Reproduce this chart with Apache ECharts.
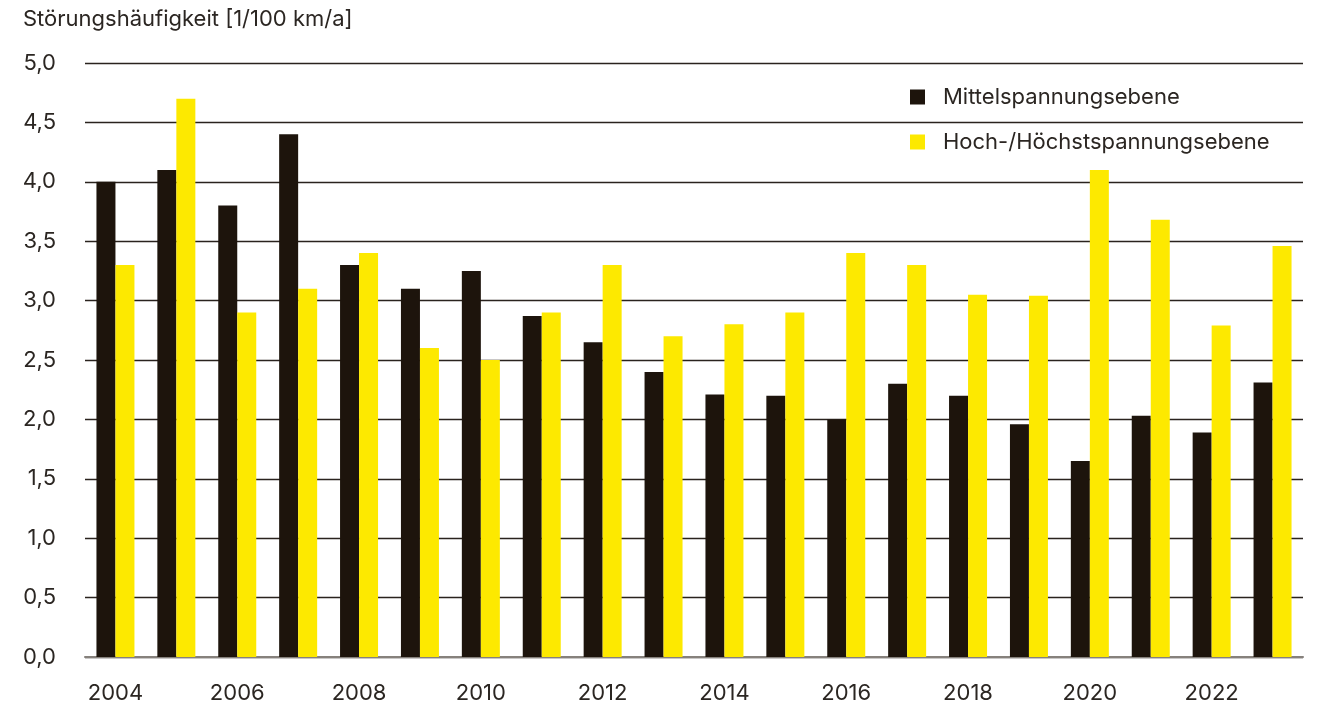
<!DOCTYPE html>
<html>
<head>
<meta charset="utf-8">
<script src="https://cdn.jsdelivr.net/npm/echarts@6/dist/echarts.min.js"></script>
<style>
  html, body { margin: 0; padding: 0; background: #ffffff; }
  #chart { width: 1318px; height: 709px; }
</style>
</head>
<body>
<div id="chart"></div>
<script>
// Jahre (Kategorien)
const years = ['2004','2005','2006','2007','2008','2009','2010','2011','2012','2013',
               '2014','2015','2016','2017','2018','2019','2020','2021','2022','2023'];

// Störungshäufigkeit je 100 km und Jahr
const mittelspannung = [4.00, 4.10, 3.80, 4.40, 3.30, 3.10, 3.25, 2.87, 2.65, 2.40,
                        2.21, 2.20, 2.00, 2.30, 2.20, 1.96, 1.65, 2.03, 1.89, 2.31];
const hochspannung   = [3.30, 4.70, 2.90, 3.10, 3.40, 2.60, 2.50, 2.90, 3.30, 2.70,
                        2.80, 2.90, 3.40, 3.30, 3.05, 3.04, 4.10, 3.68, 2.79, 3.46];

const seriesNames = ['Mittelspannungsebene', 'Hoch-/Höchstspannungsebene'];
const yAxisTitle = 'Störungshäufigkeit [1/100 km/a]';

const FONT = 'Inter, "Noto Sans", sans-serif';
const TEXT = '#2b2622';
const FS = 22;

const chart = echarts.init(document.getElementById('chart'), null, { renderer: 'canvas' });

chart.setOption({
  animation: false,
  backgroundColor: '#ffffff',
  textStyle: { fontFamily: FONT, color: TEXT },
  title: {
    text: yAxisTitle,
    left: 23,
    top: 8,
    padding: 0,
    textStyle: { fontFamily: FONT, fontSize: FS, fontWeight: 'normal', color: TEXT }
  },
  legend: {
    orient: 'vertical',
    left: 910,
    top: 86,
    padding: 0,
    itemWidth: 15,
    itemHeight: 15,
    itemGap: 23,
    icon: 'rect',
    textStyle: { fontFamily: FONT, fontSize: FS, color: TEXT, lineHeight: 22, padding: [0, 0, 0, 13] },
    data: seriesNames
  },
  grid: { left: 85, right: 15, top: 63, bottom: 52, containLabel: false },
  xAxis: {
    type: 'category',
    data: years,
    axisTick: { show: false },
    axisLine: { lineStyle: { color: '#86817c', width: 2 } },
    axisLabel: { interval: 1, margin: 25, fontFamily: FONT, fontSize: FS, color: TEXT }
  },
  yAxis: {
    type: 'value',
    min: 0,
    max: 5,
    interval: 0.5,
    axisLine: { show: false },
    axisTick: { show: false },
    splitLine: { lineStyle: { color: '#2a231e', width: 1.3 } },
    axisLabel: {
      margin: 29,
      fontFamily: FONT,
      fontSize: FS,
      color: TEXT,
      formatter: v => v.toFixed(1).replace('.', ',')
    }
  },
  series: [
    {
      name: seriesNames[0],
      type: 'bar',
      data: mittelspannung,
      barWidth: 19,
      barGap: '0%',
      itemStyle: { color: '#1d140c' }
    },
    {
      name: seriesNames[1],
      type: 'bar',
      data: hochspannung,
      barWidth: 19,
      barGap: '0%',
      itemStyle: { color: '#fde900' }
    }
  ]
});
</script>
</body>
</html>
